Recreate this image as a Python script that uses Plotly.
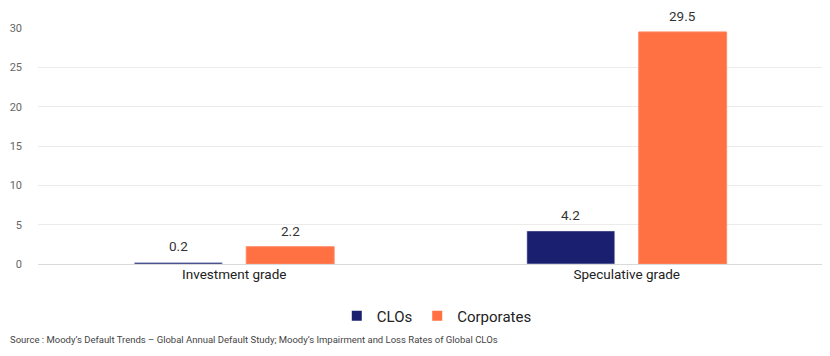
import plotly.graph_objects as go

categories = ["Investment grade", "Speculative grade"]
clos = [0.2, 4.2]
corporates = [2.2, 29.5]
y_ticks = [0, 5, 10, 15, 20, 25, 30]

FONT = "Roboto, Inter, 'Noto Sans', sans-serif"
NAVY = "#1B1F6F"
ORANGE = "#FF7043"

fig = go.Figure()
fig.add_trace(go.Bar(
    name="CLOs", x=categories, y=clos, showlegend=False,
    marker=dict(color=NAVY),
))
fig.add_trace(go.Bar(
    name="Corporates", x=categories, y=corporates, showlegend=False,
    marker=dict(color=ORANGE, line=dict(color="#FF8A65", width=1)),
))
# legend entries with small square swatches
for name, col in [("CLOs", NAVY), ("Corporates", ORANGE)]:
    fig.add_trace(go.Scatter(
        x=[None], y=[None], mode="markers", name=name,
        marker=dict(symbol="square", size=10, color=col),
    ))

# value labels above bars
annotations = []
for vals, shift in [(clos, -56), (corporates, 56)]:
    for c, v in zip(categories, vals):
        annotations.append(dict(
            x=c, y=v, xref="x", yref="y", text=f"{v:.1f}", showarrow=False,
            xshift=shift, yshift=16, yanchor="middle",
            font=dict(size=13.5, color="#333333", family=FONT),
        ))
annotations.append(dict(
    text="Source : Moody’s Default Trends – Global Annual Default Study; Moody’s Impairment and Loss Rates of Global CLOs",
    xref="paper", yref="paper", x=-0.038, y=-0.322, xanchor="left", yanchor="middle",
    showarrow=False, font=dict(size=9.5, color="#444444", family=FONT),
))

fig.update_layout(
    width=822, height=348,
    margin=dict(l=30, r=7, t=20, b=92, autoexpand=False),
    paper_bgcolor="white", plot_bgcolor="white",
    font=dict(family=FONT, color="#222222"),
    barmode="group", bargap=0.43, bargroupgap=0.214,
    showlegend=True,
    legend=dict(orientation="h", x=0.508, xanchor="center", y=-0.22, yanchor="middle",
                font=dict(size=15, color="#222222", family=FONT),
                itemwidth=30, traceorder="normal", tracegroupgap=0),
    annotations=annotations,
)
fig.update_xaxes(
    showgrid=False, showline=False, ticks="",
    tickfont=dict(size=13.5, color="#222222", family=FONT),
)
fig.update_yaxes(
    range=[0, 30], tickvals=y_ticks, showgrid=True, gridcolor="#EBEBEB", gridwidth=1,
    zeroline=True, zerolinecolor="#D9D9D9", zerolinewidth=1,
    tickfont=dict(size=11, color="#666666", family=FONT), ticklabelstandoff=15,
)

fig.write_html("out.html")
